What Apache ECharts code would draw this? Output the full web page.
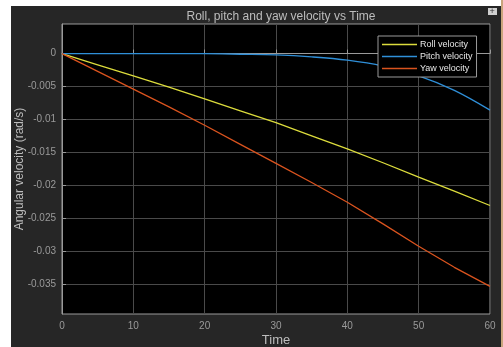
<!DOCTYPE html>
<html>
<head>
<meta charset="utf-8">
<script src="https://cdn.jsdelivr.net/npm/echarts@6/dist/echarts.min.js"></script>
<style>
  html, body { margin: 0; padding: 0; background: #ffffff; width: 503px; height: 347px; overflow: hidden; }
  #bg { position: absolute; left: 11px; top: 6px; width: 490px; height: 341px; background: #262626; }
  #edge { position: absolute; left: 501px; top: 0; width: 2px; height: 347px; background: #c9a47c; }
  #chart { position: absolute; left: 0; top: 0; width: 503px; height: 347px; }
</style>
</head>
<body>
<div id="bg"></div>
<div id="edge"></div>
<div id="chart"></div>
<script>
// Data
const times = [0, 5, 10, 15, 20, 25, 30, 35, 40, 45, 50, 55, 60];
const rollVelocity  = [0, -0.0017, -0.0034, -0.0051, -0.0069, -0.0087, -0.0105, -0.0125, -0.0145, -0.0166, -0.0188, -0.0209, -0.0231];
const pitchVelocity = [0, 0, 0, 0, -0.00002, -0.0001, -0.0002, -0.0005, -0.001, -0.0019, -0.0034, -0.0056, -0.0086];
const yawVelocity   = [0, -0.0027, -0.0054, -0.0081, -0.0109, -0.0138, -0.0167, -0.0196, -0.0226, -0.0259, -0.0293, -0.0325, -0.0354];
const yTicks = [0, -0.005, -0.01, -0.015, -0.02, -0.025, -0.03, -0.035];
const xTicks = [0, 10, 20, 30, 40, 50, 60];
const seriesNames = ['Roll velocity', 'Pitch velocity', 'Yaw velocity'];
const seriesColors = ['#dcdc3c', '#2f8fd8', '#d9531e'];
const seriesSmooth = [false, 0.35, false];

function pairs(vals) { return times.map((t, i) => [t, vals[i]]); }
const allVals = [rollVelocity, pitchVelocity, yawVelocity];

const chart = echarts.init(document.getElementById('chart'), null, { renderer: 'canvas' });
const font = 'Liberation Sans, Arial, Helvetica, sans-serif';

chart.setOption({
  backgroundColor: 'transparent',
  animation: false,
  textStyle: { fontFamily: font },
  title: {
    text: 'Roll, pitch and yaw velocity vs Time',
    left: 276, top: 6, textAlign: 'center',
    textStyle: { color: '#bdbdbd', fontSize: 12, fontWeight: 'normal', fontFamily: font }
  },
  legend: {
    data: seriesNames,
    orient: 'vertical',
    left: 378, top: 36,
    icon: 'rect', itemWidth: 35, itemHeight: 1.5, itemGap: 3,
    padding: [4, 4, 4, 4],
    backgroundColor: '#000000', borderColor: '#9a9a9a', borderWidth: 1, borderRadius: 0,
    textStyle: { color: '#e6e6e6', fontSize: 9, lineHeight: 9, fontFamily: font, padding: [0, 0, 0, -2] }
  },
  grid: {
    left: 62, right: 13, top: 24, bottom: 33,
    outerBoundsMode: 'none', containLabel: false,
    show: true, backgroundColor: '#000000', borderColor: '#9a9a9a', borderWidth: 1
  },
  xAxis: {
    type: 'value', min: 0, max: 60, interval: 10,
    name: 'Time', nameLocation: 'middle', nameGap: 20, nameMoveOverlap: false,
    nameTextStyle: { color: '#bdbdbd', fontSize: 13, fontFamily: font },
    axisLine: { show: true, lineStyle: { color: '#9a9a9a', width: 1 } },
    axisTick: { show: true, inside: true, length: 4, lineStyle: { color: '#9a9a9a' } },
    axisLabel: { color: '#9a9a9a', fontSize: 10, margin: 7, fontFamily: font,
      formatter: v => xTicks.indexOf(v) >= 0 ? String(v) : '' },
    splitLine: { show: true, lineStyle: { color: '#4a4a4a', width: 1 } }
  },
  yAxis: {
    type: 'value', min: -0.0396, max: 0.0045,
    name: 'Angular velocity (rad/s)', nameLocation: 'middle', nameGap: 36, nameMoveOverlap: false,
    nameTextStyle: { color: '#bdbdbd', fontSize: 12, fontFamily: font },
    axisLine: { show: true, lineStyle: { color: '#9a9a9a', width: 1 } },
    axisTick: { show: true, inside: true, length: 4, customValues: yTicks, lineStyle: { color: '#9a9a9a' } },
    axisLabel: { color: '#9a9a9a', fontSize: 10, margin: 6, fontFamily: font, customValues: yTicks,
      formatter: v => Math.abs(v) < 1e-9 ? '0' : String(+v.toFixed(3)) },
    splitLine: { show: true, lineStyle: { color: '#4a4a4a', width: 1 } }
  },
  graphic: [
    { type: 'rect', left: 488, top: 8, shape: { width: 9, height: 7 }, style: { fill: '#d0d0d0' }, z: 100 },
    { type: 'text', left: 489.5, top: 7, style: { text: '+', fill: '#333', fontSize: 9, fontFamily: font }, z: 101 }
  ],
  series: seriesNames.map((name, i) => ({
    name, type: 'line', data: pairs(allVals[i]),
    showSymbol: false, symbol: 'none', smooth: seriesSmooth[i],
    lineStyle: { color: seriesColors[i], width: 1.3 },
    itemStyle: { color: seriesColors[i] }
  }))
});
</script>
</body>
</html>
